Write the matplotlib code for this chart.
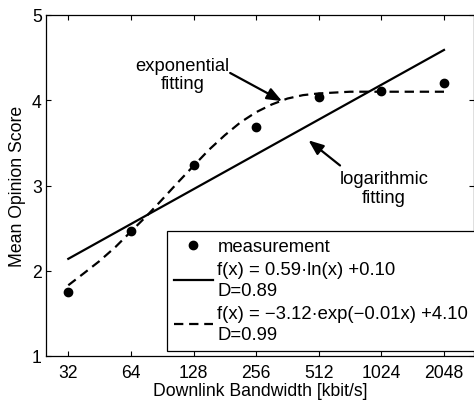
import numpy as np
import matplotlib
matplotlib.use("Agg")
import matplotlib.pyplot as plt
from matplotlib.ticker import FixedLocator, FixedFormatter, NullLocator

plt.rcParams['font.family'] = ['Liberation Sans', 'DejaVu Sans']
plt.rcParams['font.size'] = 12

# === data ===
bandwidth = [32, 64, 128, 256, 512, 1024, 2048]
mos = [1.75, 2.47, 3.24, 3.69, 4.04, 4.11, 4.20]

# logarithmic fit (straight in log-x), end points
log_x = [32, 2048]
log_y = [2.14, 4.59]

# exponential fit curve, sampled along the dashed line
exp_x = [32, 38, 45, 54, 64, 76, 90, 108, 128, 152, 181, 215, 256,
         304, 362, 430, 512, 724, 1024, 1448, 2048]
exp_y = [1.83, 1.97, 2.11, 2.28, 2.46, 2.64, 2.83, 3.04, 3.23, 3.42,
         3.59, 3.74, 3.86, 3.95, 4.02, 4.06, 4.08, 4.10, 4.10, 4.10, 4.10]

xticks = [32, 64, 128, 256, 512, 1024, 2048]
xtick_labels = ['32', '64', '128', '256', '512', '1024', '2048']
yticks = [1, 2, 3, 4, 5]

label_meas = 'measurement'
label_log = 'f(x) = 0.59\u00b7ln(x) +0.10\nD=0.89'
label_exp = 'f(x) = \u22123.12\u00b7exp(\u22120.01x) +4.10\nD=0.99'

# === figure ===
fig = plt.figure(figsize=(4.74, 4.02), dpi=100)
ax = fig.add_axes([46/474, 1 - 357/402, 1 - 46/474, (357 - 16)/402])

ax.plot(bandwidth, mos, 'o', color='black', markersize=6, label=label_meas)
ax.plot(log_x, log_y, '-', color='black', lw=1.6, label=label_log)
ax.plot(exp_x, exp_y, '--', color='black', lw=1.6, dashes=(4.2, 2.6),
        label=label_exp)

ax.set_xscale('log', base=2)
ax.set_xlim(25.0, 2855)
ax.set_ylim(1, 5)
ax.xaxis.set_major_locator(FixedLocator(xticks))
ax.xaxis.set_major_formatter(FixedFormatter(xtick_labels))
ax.xaxis.set_minor_locator(NullLocator())
ax.set_yticks(yticks)

for sp in ax.spines.values():
    sp.set_linewidth(0.9)
ax.tick_params(axis='x', direction='in', length=3.5, width=0.8, top=True,
               pad=6, labelsize=12.7)
ax.tick_params(axis='y', direction='in', length=3.5, width=0.8, right=True,
               pad=3, labelsize=12.7)

ax.set_xlabel('Downlink Bandwidth [kbit/s]', fontsize=12.7, labelpad=0.5)
ax.set_ylabel('Mean Opinion Score', fontsize=12.7, labelpad=4)

# annotations
arrow = dict(arrowstyle='-|>,head_length=0.5,head_width=0.2', color='black',
             lw=1.6, mutation_scale=18, shrinkA=0, shrinkB=0)
ax.text(113, 4.30, 'exponential\nfitting', ha='center', va='center',
        fontsize=13.2, linespacing=1.1)
ax.annotate('', xy=(341, 3.99), xytext=(192, 4.32), arrowprops=arrow)
ax.text(1055, 2.97, 'logarithmic\nfitting', ha='center', va='center',
        fontsize=13.2, linespacing=1.1)
ax.annotate('', xy=(457, 3.53), xytext=(648, 3.235), arrowprops=arrow)

leg = ax.legend(loc='upper left', bbox_to_anchor=(166.7/474, 1 - 231.7/402),
                bbox_transform=fig.transFigure, borderaxespad=0,
                fancybox=False, framealpha=1, edgecolor='black',
                handlelength=2.1, handletextpad=0.25, borderpad=0.4,
                labelspacing=0.3, fontsize=13.3)
leg.get_frame().set_linewidth(0.9)
for t in leg.get_texts():
    t.set_linespacing(1.35)

fig.savefig('out.png', dpi=100)
